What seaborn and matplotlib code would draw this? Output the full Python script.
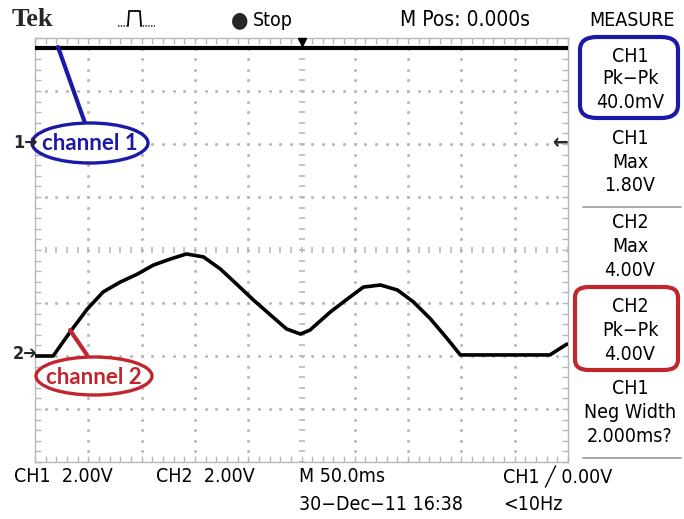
import numpy as np
import pandas as pd
import matplotlib
matplotlib.use("Agg")
import matplotlib.pyplot as plt
from matplotlib.patches import Ellipse, FancyBboxPatch
from matplotlib.lines import Line2D
import seaborn as sns

# ---------------- data ----------------
time_ms = [-250, -233, -217, -201, -186, -170, -154, -139, -123, -108, -92, -76,
           -60, -45, -30, -14, -1, 8, 27, 43, 58, 74, 90, 105, 121, 137, 149,
           233, 249]
ch2_volts = [0.0, 0.0, 0.91, 1.77, 2.42, 2.79, 3.09, 3.43, 3.66, 3.85, 3.74, 3.28,
             2.68, 2.11, 1.58, 1.02, 0.83, 0.98, 1.66, 2.15, 2.60, 2.68, 2.49, 2.04,
             1.40, 0.64, 0.04, 0.04, 0.45]
ch1_time_ms = [-250, -100, 0, 100, 250]
ch1_volts = [3.62, 3.62, 3.62, 3.62, 3.62]

volts_per_div = 2.0
ms_per_div = 50.0
ch1_offset_div = 2.0
ch2_offset_div = -2.0

measure_labels = [("CH1", "Pk\u2212Pk", "40.0mV"),
                  ("CH1", "Max", "1.80V"),
                  ("CH2", "Max", "4.00V"),
                  ("CH2", "Pk\u2212Pk", "4.00V"),
                  ("CH1", "Neg Width", "2.000ms?")]

# ---------------- figure ----------------
sns.set_theme(style="white")
plt.rcParams['font.family'] = ['DejaVu Sans']
plt.rcParams['font.stretch'] = 'condensed'

W, H = 684, 519
fig = plt.figure(figsize=(W / 100, H / 100), dpi=100)
fig.patch.set_facecolor("white")


def fx(x):
    return x / W


def fy(y):
    return 1 - y / H


ax = fig.add_axes([fx(35), fy(462), fx(568) - fx(35), fy(38) - fy(462)])
ax.set_xlim(-5, 5)
ax.set_ylim(-4, 4)
ax.set_facecolor("white")

# graticule
gcol = "#b8b8b8"
sub = np.arange(-5, 5.01, 0.2)
subv = np.arange(-4, 4.01, 0.2)
for k in range(-4, 5):
    if k == 0:
        continue
    ax.plot([k] * len(subv), subv, ls="none", marker="o", ms=1.2, color=gcol, zorder=1)
for k in range(-3, 4):
    if k == 0:
        continue
    ax.plot(sub, [k] * len(sub), ls="none", marker="o", ms=1.2, color=gcol, zorder=1)
ax.plot([0] * len(subv), subv, ls="none", marker="_", ms=5, mew=1.2, color=gcol, zorder=1)
ax.plot(sub, [0] * len(sub), ls="none", marker="|", ms=5, mew=1.2, color=gcol, zorder=1)

ax.xaxis.set_major_locator(matplotlib.ticker.MultipleLocator(1))
ax.yaxis.set_major_locator(matplotlib.ticker.MultipleLocator(1))
ax.xaxis.set_minor_locator(matplotlib.ticker.MultipleLocator(0.2))
ax.yaxis.set_minor_locator(matplotlib.ticker.MultipleLocator(0.2))
ax.tick_params(which="both", direction="in", length=4, width=1, color=gcol,
               top=True, bottom=True, left=True, right=True,
               labelbottom=False, labelleft=False)
for s in ax.spines.values():
    s.set_color(gcol)
    s.set_linewidth(1.0)

# traces
df2 = pd.DataFrame({"t": np.array(time_ms) / ms_per_div,
                    "v": np.array(ch2_volts) / volts_per_div + ch2_offset_div})
df1 = pd.DataFrame({"t": np.array(ch1_time_ms) / ms_per_div,
                    "v": np.array(ch1_volts) / volts_per_div + ch1_offset_div})
sns.lineplot(data=df1, x="t", y="v", ax=ax, color="black", lw=3.0, zorder=3,
             estimator=None, sort=False)
sns.lineplot(data=df2, x="t", y="v", ax=ax, color="black", lw=2.6, zorder=3,
             estimator=None, sort=False)
ax.plot([0], [3.93], marker="v", ms=6, color="black", zorder=4, clip_on=False)
ax.set_xlabel("")
ax.set_ylabel("")

# ---------------- texts ----------------
mono = dict(color="black", fontsize=14)
fig.text(fx(12), fy(19), "Tek", fontsize=19, fontweight="bold",
         family=["Liberation Serif", "DejaVu Serif"], va="center", ha="left")
# small acquisition icon (drawn)
fig.add_artist(Line2D([fx(118), fx(128), fx(129), fx(140), fx(141), fx(155)],
                      [fy(26), fy(26), fy(11), fy(11), fy(26), fy(26)],
                      color="black", lw=1.0, ls=(0, (1, 1))))
fig.add_artist(Line2D([fx(128), fx(129), fx(140), fx(141)],
                      [fy(26), fy(11), fy(11), fy(26)], color="black", lw=1.2))
fig.text(fx(231), fy(20), "\u25cf", fontsize=16, family=["DejaVu Sans"],
         va="center", ha="left")
fig.text(fx(253), fy(20), "Stop", va="center", ha="left", **mono)
fig.text(fx(400), fy(20), "M Pos: 0.000s", va="center", ha="left", color="black",
         fontsize=15)
fig.text(fx(632), fy(20), "MEASURE", va="center", ha="center", **mono)

ys = [(56, 79, 102), (139, 162, 186), (223, 246, 270), (307, 331, 355), (389, 413, 437)]
for (a, b, c), (y1, y2, y3) in zip(measure_labels, ys):
    fig.text(fx(630), fy(y1), a, va="center", ha="center", **mono)
    fig.text(fx(630), fy(y2), b, va="center", ha="center", **mono)
    fig.text(fx(630), fy(y3), c, va="center", ha="center", **mono)

fig.add_artist(Line2D([fx(583), fx(681)], [fy(207), fy(207)], color="#999999", lw=1.2))
fig.add_artist(Line2D([fx(583), fx(681)], [fy(458), fy(458)], color="#999999", lw=1.2))

fig.add_artist(FancyBboxPatch((fx(580), fy(118)), fx(678) - fx(580), fy(37) - fy(118),
                              boxstyle="round,pad=0,rounding_size=0.025",
                              fill=False, ec="#1a1aa6", lw=3, transform=fig.transFigure))
fig.add_artist(FancyBboxPatch((fx(575), fy(370)), fx(678) - fx(575), fy(287) - fy(370),
                              boxstyle="round,pad=0,rounding_size=0.02",
                              fill=False, ec="#c0262c", lw=3, transform=fig.transFigure))

fig.text(fx(14), fy(477), "CH1  2.00V", va="center", ha="left", **mono)
fig.text(fx(156), fy(477), "CH2  2.00V", va="center", ha="left", **mono)
fig.text(fx(299), fy(477), "M 50.0ms", va="center", ha="left", **mono)
fig.text(fx(503), fy(477), "CH1 \u2571 0.00V", va="center", ha="left", **mono)
fig.text(fx(299), fy(505), "30\u2212Dec\u221211 16:38", va="center", ha="left", **mono)
fig.text(fx(503), fy(505), "<10Hz", va="center", ha="left", **mono)

# channel markers
fig.text(fx(13), fy(143), "1\u2794", va="center", ha="left", fontsize=13,
         fontweight="bold", family=["DejaVu Sans"], zorder=8)
fig.text(fx(13), fy(354), "2\u2794", va="center", ha="left", fontsize=13,
         fontweight="bold", family=["DejaVu Sans"], zorder=8)
fig.text(fx(552), fy(143), "\u2190", va="center", ha="left", fontsize=15,
         fontweight="bold", family=["DejaVu Sans"])

# annotations
fig.add_artist(Line2D([fx(58), fx(85)], [fy(47), fy(123)], color="#1a1aa6", lw=3))
fig.add_artist(Ellipse((fx(90), fy(143)), fx(116), 40 / H, fill=True, fc="white",
                       ec="#1a1aa6", lw=2.4, transform=fig.transFigure, zorder=5))
fig.text(fx(90), fy(144), "channel 1", color="#1a1aa6", fontsize=16, fontweight="bold",
         family=["Lato", "DejaVu Sans"], va="center", ha="center", zorder=6)

fig.add_artist(Line2D([fx(70), fx(87)], [fy(330), fy(355)], color="#c0262c", lw=3))
fig.add_artist(Ellipse((fx(94), fy(376)), fx(116), 38 / H, fill=True, fc="white",
                       ec="#c0262c", lw=2.4, transform=fig.transFigure, zorder=5))
fig.text(fx(94), fy(377), "channel 2", color="#c0262c", fontsize=16, fontweight="bold",
         family=["Lato", "DejaVu Sans"], va="center", ha="center", zorder=6)

fig.savefig("out.png", dpi=100, facecolor="white")
